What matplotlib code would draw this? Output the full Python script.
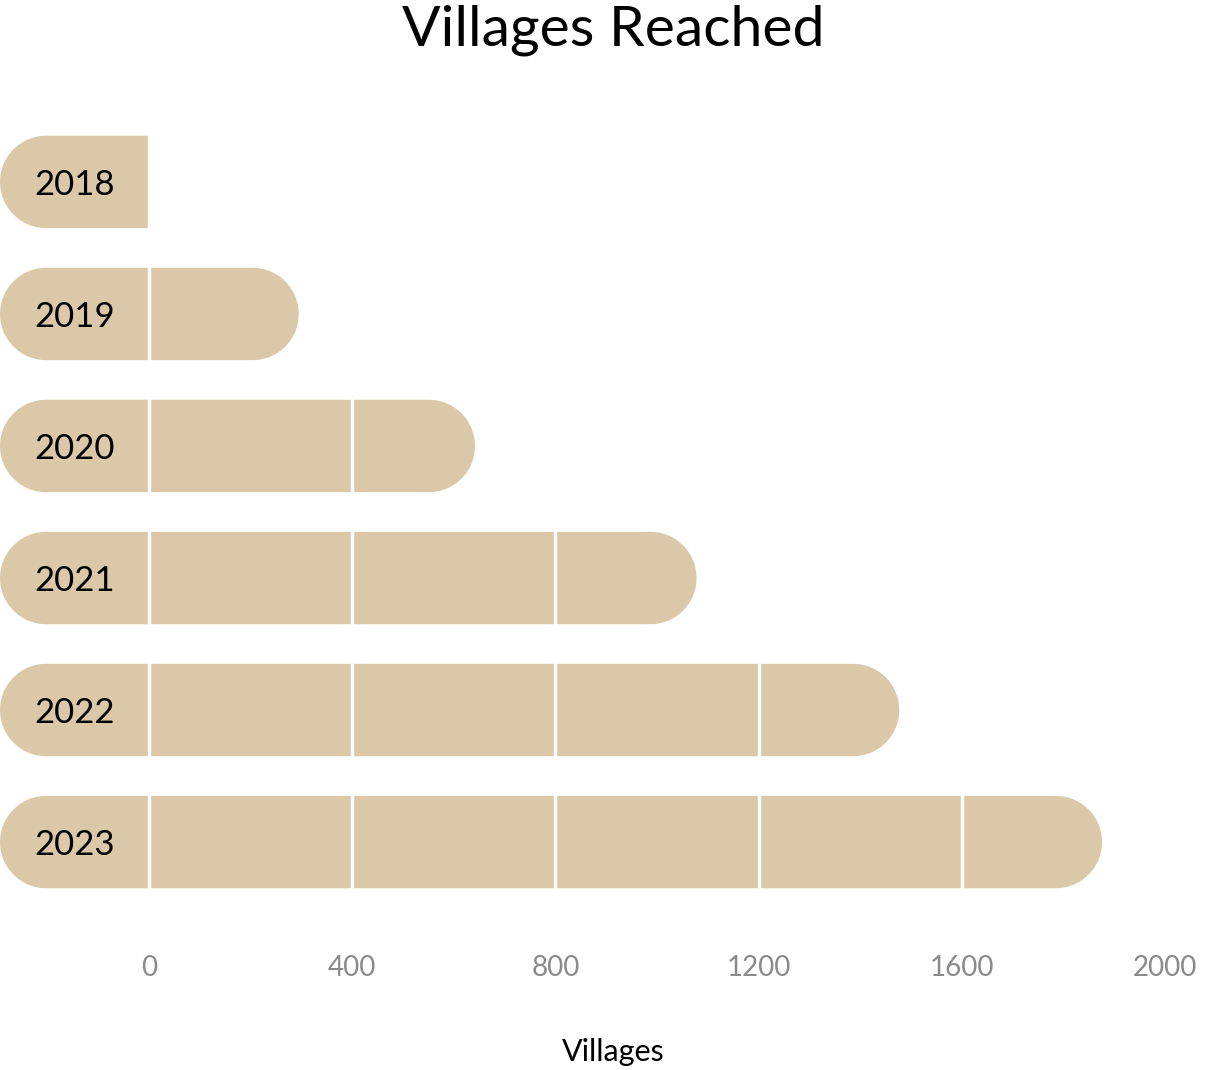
import numpy as np
import matplotlib
matplotlib.use('Agg')
import matplotlib.pyplot as plt
from matplotlib.path import Path
from matplotlib.patches import PathPatch

# data
years = ['2018', '2019', '2020', '2021', '2022', '2023']
villages = [0, 295, 642, 1078, 1477, 1876]
x_ticks = [0, 400, 800, 1200, 1600, 2000]

plt.rcParams['font.family'] = ['Lato', 'DejaVu Sans']

bar_color = '#dac8a8'
label_start = -293  # bars begin left of zero, year label sits there
x_max = 2000
bar_h = 0.70

fig = plt.figure(figsize=(12.27, 10.70), dpi=100)
ax = fig.add_axes([0.0, 0.139, 1165 / 1227, 0.765])
ax.set_xlim(label_start, x_max)
ax.set_ylim(len(years) - 1 + 0.6, -0.6)

# size of half a bar in x data units so the caps come out round
fig_w_px = fig.get_figwidth() * fig.dpi
fig_h_px = fig.get_figheight() * fig.dpi
bbox = ax.get_position()
px_per_x = bbox.width * fig_w_px / (x_max - label_start)
px_per_y = bbox.height * fig_h_px / (len(years) + 0.2)
r_y = bar_h / 2
r_x = r_y * px_per_y / px_per_x


def capsule(x0, x1, yc, round_right):
    t = np.linspace(np.pi / 2, 3 * np.pi / 2, 40)
    pts = [(x0 + r_x + r_x * np.cos(a), yc - r_y * np.sin(a)) for a in t]
    if round_right:
        t2 = np.linspace(-np.pi / 2, np.pi / 2, 40)
        pts += [(x1 - r_x + r_x * np.cos(a), yc - r_y * np.sin(a)) for a in t2]
    else:
        pts += [(x1, yc + r_y), (x1, yc - r_y)]
    pts.append(pts[0])
    return Path(pts, closed=True)


for i, (yr, v) in enumerate(zip(years, villages)):
    p = capsule(label_start, v, i, v > 0)
    ax.add_patch(PathPatch(p, facecolor=bar_color, edgecolor='none', zorder=1))
    ax.text((label_start + 0) / 2, i + 0.02, yr, ha='center', va='center',
            fontsize=25, color='black', zorder=3)

# white grid lines cut through the bars
for xt in x_ticks:
    ax.axvline(xt, color='white', lw=2.5, zorder=2)

ax.set_xticks(x_ticks)
ax.set_xticklabels([str(x) for x in x_ticks], fontsize=20, color='#8a8a8a')
ax.tick_params(axis='x', length=0, pad=24)
ax.set_yticks([])
for s in ax.spines.values():
    s.set_visible(False)

fig.text(0.5, 1 - 45 / 1070, 'Villages Reached', ha='center', va='baseline', fontsize=41)
fig.text(0.5, 1 - 1052 / 1070, 'Villages', ha='center', va='center', fontsize=22)

fig.savefig('out.png', dpi=100)
